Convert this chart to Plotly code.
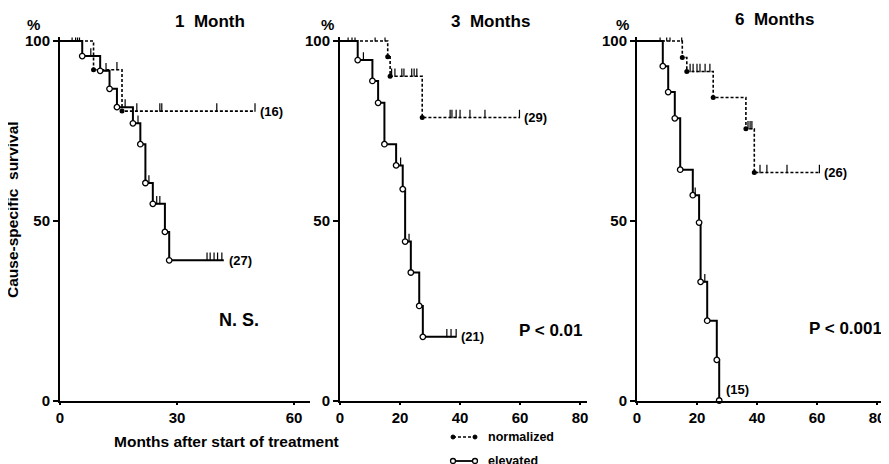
import plotly.graph_objects as go

# ---------------- data (months, survival %) ----------------
p1_elev_t = [5.7, 10.3, 12.7, 14.6, 18.7, 20.6, 21.9, 23.8, 26.9, 28.0]
p1_elev_s = [95.8, 91.7, 86.7, 81.6, 77.1, 71.3, 60.5, 54.7, 46.9, 39.0]
p1_elev_end = 42.0
p1_elev_c = [3.1, 4.0, 5.0, 7.9, 11.8, 16.7, 20.0, 22.8, 24.8, 25.6, 37.7, 38.5, 39.5, 40.4, 41.5]

p1_norm_t = [8.6, 15.9]
p1_norm_s = [92.0, 80.5]
p1_norm_end = 50.0
p1_norm_c = [4.5, 14.6, 19.7, 25.6, 26.1, 40.2, 50.0]

p2_elev_t = [5.9, 10.8, 12.7, 14.8, 18.7, 20.9, 21.7, 23.6, 26.4, 27.6]
p2_elev_s = [94.7, 88.9, 82.8, 71.3, 65.4, 58.8, 44.2, 35.6, 26.3, 17.7]
p2_elev_end = 38.7
p2_elev_c = [2.7, 4.0, 5.0, 7.8, 20.2, 23.0, 35.6, 37.0, 38.7]

p2_norm_t = [15.9, 16.7, 27.4]
p2_norm_s = [95.6, 90.2, 78.7]
p2_norm_end = 59.8
p2_norm_c = [11.7, 15.0, 17.2, 18.3, 20.6, 21.3, 23.9, 24.7, 25.6,
             36.7, 37.3, 38.7, 40.0, 43.3, 48.3, 59.8]

p3_elev_t = [8.6, 10.4, 12.6, 14.4, 18.6, 20.7, 21.2, 23.4, 26.6, 27.4]
p3_elev_s = [93.0, 85.8, 78.5, 64.2, 57.1, 49.5, 33.0, 22.2, 11.3, 0.0]
p3_elev_end = 27.4
p3_elev_c = [7.7, 19.4, 22.6]

p3_norm_t = [15.1, 16.6, 25.4, 36.3, 39.1]
p3_norm_s = [95.4, 91.5, 84.3, 75.6, 63.4]
p3_norm_end = 60.8
p3_norm_c = [9.9, 11.0, 14.9, 17.7, 18.7, 20.0, 21.0, 22.7, 24.3,
             37.0, 37.7, 38.3, 41.0, 43.3, 50.0, 60.8]

panel_titles = ["1\u00a0\u00a0Month", "3\u00a0\u00a0Months", "6\u00a0\u00a0Months"]
n_elev = ["(27)", "(21)", "(15)"]
n_norm = ["(16)", "(29)", "(26)"]
p_texts = ["N. S.", "P < 0.01", "P < 0.001"]
x_ticks = [[0, 30, 60], [0, 20, 40, 60, 80], [0, 20, 40, 60, 80]]
y_ticks = [0, 50, 100]

# ---------------- layout geometry (screen pixels; page body adds an 8px offset) ----------------
OFF = 8
W, H = 881, 456
BOLD = "Liberation Sans, Arial"
NARROW = "Liberation Sans Narrow, Liberation Sans, Arial"


def px(x):
    return (x - OFF) / W


def py(y):
    return 1 - (y - OFF) / H


y_bottom, y_top = 400.5, 37.4
panels = [
    dict(x0=60, x1=310, rng=[0, 64.1]),
    dict(x0=340, x1=587, rng=[0, 82.3]),
    dict(x0=637, x1=889, rng=[0, 84.0]),
]

series = [
    (p1_elev_t, p1_elev_s, p1_elev_end, p1_elev_c, p1_norm_t, p1_norm_s, p1_norm_end, p1_norm_c),
    (p2_elev_t, p2_elev_s, p2_elev_end, p2_elev_c, p2_norm_t, p2_norm_s, p2_norm_end, p2_norm_c),
    (p3_elev_t, p3_elev_s, p3_elev_end, p3_elev_c, p3_norm_t, p3_norm_s, p3_norm_end, p3_norm_c),
]


def level_at(times, surv, t):
    v = 100.0
    for tt, ss in zip(times, surv):
        if t >= tt:
            v = ss
    return v


fig = go.Figure()
annotations = []
shapes = []
tick_marker = dict(symbol="line-ns-open", size=6, color="black", line=dict(color="black", width=1.2))

for i, (et, es, ee, ec, nt, ns, ne, nc) in enumerate(series):
    xa = "x" if i == 0 else f"x{i+1}"
    ya = "y" if i == 0 else f"y{i+1}"
    # normalized (dashed, filled dots)
    fig.add_trace(go.Scatter(x=[0] + nt + [ne], y=[100] + ns + [ns[-1]], mode="lines",
                             line=dict(color="black", width=1.6, dash="3px,2px", shape="hv"),
                             xaxis=xa, yaxis=ya, showlegend=False, hoverinfo="skip"))
    fig.add_trace(go.Scatter(x=nt, y=ns, mode="markers",
                             marker=dict(symbol="circle", size=5, color="black"),
                             xaxis=xa, yaxis=ya, showlegend=False))
    fig.add_trace(go.Scatter(x=nc, y=[level_at(nt, ns, c) + 1.0 for c in nc], mode="markers",
                             marker=tick_marker, xaxis=xa, yaxis=ya, showlegend=False))
    # elevated (solid, open circles)
    fig.add_trace(go.Scatter(x=[0] + et + [ee], y=[100] + es + [es[-1]], mode="lines",
                             line=dict(color="black", width=2, shape="hv"),
                             xaxis=xa, yaxis=ya, showlegend=False, hoverinfo="skip"))
    fig.add_trace(go.Scatter(x=et, y=es, mode="markers",
                             marker=dict(symbol="circle", size=5.5, color="white",
                                         line=dict(color="black", width=1.3)),
                             xaxis=xa, yaxis=ya, showlegend=False, cliponaxis=False))
    fig.add_trace(go.Scatter(x=ec, y=[level_at(et, es, c) + 1.0 for c in ec], mode="markers",
                             marker=tick_marker, xaxis=xa, yaxis=ya, showlegend=False))

    # end-of-curve counts
    annotations.append(dict(x=ne, y=ns[-1], xref=xa, yref=ya, text=n_norm[i], showarrow=False,
                            xanchor="left", yanchor="middle", xshift=3,
                            font=dict(family=NARROW, size=13, color="black", weight="bold")))
    if i < 2:
        annotations.append(dict(x=ee, y=es[-1], xref=xa, yref=ya, text=n_elev[i], showarrow=False,
                                xanchor="left", yanchor="middle", xshift=3,
                                font=dict(family=NARROW, size=13, color="black", weight="bold")))
    else:
        annotations.append(dict(x=ee, y=es[-1], xref=xa, yref=ya, text=n_elev[i], showarrow=False,
                                xanchor="left", yanchor="bottom", xshift=5, yshift=2,
                                font=dict(family=NARROW, size=13, color="black", weight="bold")))

axis_common = dict(showgrid=False, zeroline=False, showline=True, linecolor="black", linewidth=2,
                   ticks="outside", tickcolor="black", tickwidth=1.5,
                   tickfont=dict(family=NARROW, size=15, color="black", weight="bold"))

for i, p in enumerate(panels):
    xk = "xaxis" if i == 0 else f"xaxis{i+1}"
    yk = "yaxis" if i == 0 else f"yaxis{i+1}"
    xa = "x" if i == 0 else f"x{i+1}"
    ya = "y" if i == 0 else f"y{i+1}"
    fig.update_layout(**{
        xk: dict(domain=[px(p["x0"]), min(1.0, px(p["x1"]))], range=p["rng"], anchor=ya,
                 tickvals=x_ticks[i], ticklen=2, automargin=False, **axis_common),
        yk: dict(domain=[py(y_bottom), py(y_top)], range=[0, 101], anchor=xa,
                 tickvals=y_ticks, ticklen=5, automargin=False, **axis_common),
    })

# panel titles, "%" marks and significance texts
title_pos = [(210, 21), (490, 21), (774, 19)]
pct_pos = [(33, 25), (327, 25), (622, 24)]
pval_pos = [(239, 320), (551, 330), (845, 328)]
pval_size = [18, 17, 17]
for i in range(3):
    annotations.append(dict(x=px(title_pos[i][0]), y=py(title_pos[i][1]), xref="paper", yref="paper",
                            text=panel_titles[i], showarrow=False, xanchor="center", yanchor="middle",
                            font=dict(family=BOLD, size=17, color="black", weight="bold")))
    annotations.append(dict(x=px(pct_pos[i][0]), y=py(pct_pos[i][1]), xref="paper", yref="paper",
                            text="%", showarrow=False, xanchor="center", yanchor="middle",
                            font=dict(family=NARROW, size=15, color="black", weight="bold")))
    annotations.append(dict(x=px(pval_pos[i][0]), y=py(pval_pos[i][1]), xref="paper", yref="paper",
                            text=p_texts[i], showarrow=False, xanchor="center", yanchor="middle",
                            font=dict(family=BOLD, size=pval_size[i], color="black", weight="bold")))

annotations.append(dict(x=px(13), y=py(210), xref="paper", yref="paper", text="Cause-specific\u00a0\u00a0survival",
                        textangle=-90, showarrow=False, xanchor="center", yanchor="middle",
                        font=dict(family=BOLD, size=15.5, color="black", weight="bold")))
annotations.append(dict(x=px(226), y=py(441), xref="paper", yref="paper", text="Months after start of treatment",
                        showarrow=False, xanchor="center", yanchor="middle",
                        font=dict(family=BOLD, size=15.5, color="black", weight="bold")))

# legend (drawn manually)
annotations.append(dict(x=px(486), y=py(437), xref="paper", yref="paper", text="normalized",
                        showarrow=False, xanchor="left", yanchor="middle",
                        font=dict(family=BOLD, size=12.5, color="black", weight="bold")))
annotations.append(dict(x=px(486), y=py(461), xref="paper", yref="paper", text="elevated",
                        showarrow=False, xanchor="left", yanchor="middle",
                        font=dict(family=BOLD, size=12.5, color="black", weight="bold")))
shapes.append(dict(type="line", xref="paper", yref="paper", x0=px(453), x1=px(475), y0=py(437), y1=py(437),
                   line=dict(color="black", width=1.3, dash="3px,2px")))
for cx in (453, 475):
    shapes.append(dict(type="circle", xref="paper", yref="paper", x0=px(cx - 2), x1=px(cx + 2),
                       y0=py(437 + 2), y1=py(437 - 2), fillcolor="black", line=dict(color="black", width=1)))
shapes.append(dict(type="line", xref="paper", yref="paper", x0=px(453), x1=px(475), y0=py(461), y1=py(461),
                   line=dict(color="black", width=1.8)))
for cx in (453, 475):
    shapes.append(dict(type="circle", xref="paper", yref="paper", x0=px(cx - 2.5), x1=px(cx + 2.5),
                       y0=py(461 + 2.5), y1=py(461 - 2.5), fillcolor="white", line=dict(color="black", width=1.3)))

fig.update_layout(width=W, height=H, margin=dict(l=0, r=0, t=0, b=0, autoexpand=False),
                  paper_bgcolor="white", plot_bgcolor="white",
                  annotations=annotations, shapes=shapes, showlegend=False)

fig.write_html("out.html")
